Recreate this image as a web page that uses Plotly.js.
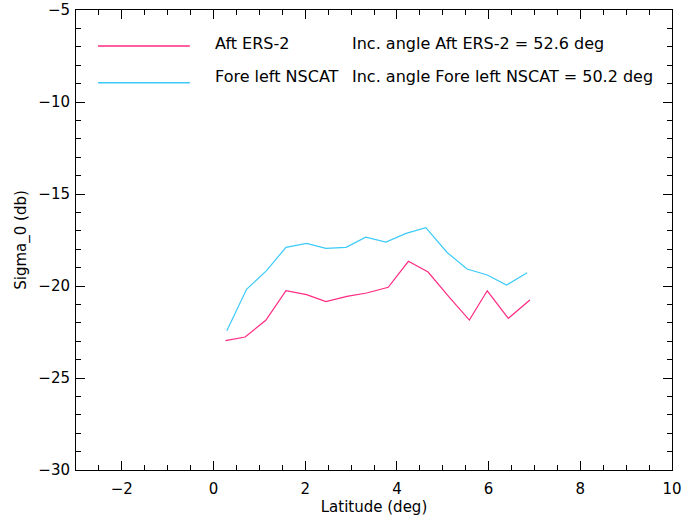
<!DOCTYPE html>
<html>
<head>
<meta charset="utf-8">
<script src="https://cdn.plot.ly/plotly-3.0.1.min.js"></script>
<style>
html,body{margin:0;padding:0;background:#fff;}
#chart{width:693px;height:519px;}
</style>
</head>
<body>
<div id="chart"></div>
<script>
// Aft ERS-2 series
const ersLat = [0.26, 0.69, 1.14, 1.58, 2.03, 2.45, 2.91, 3.34, 3.81, 4.25, 4.68, 5.14, 5.58, 5.97, 6.43, 6.90];
const ersSigma = [-22.97, -22.77, -21.86, -20.26, -20.47, -20.85, -20.56, -20.38, -20.07, -18.66, -19.24, -20.61, -21.85, -20.26, -21.76, -20.76];
// Fore left NSCAT series
const nscatLat = [0.29, 0.72, 1.15, 1.58, 2.03, 2.45, 2.89, 3.32, 3.76, 4.20, 4.63, 5.10, 5.53, 5.97, 6.39, 6.84];
const nscatSigma = [-22.43, -20.18, -19.18, -17.90, -17.68, -17.95, -17.90, -17.35, -17.61, -17.14, -16.83, -18.19, -19.08, -19.40, -19.95, -19.28];
const seriesNames = ['Aft ERS-2', 'Fore left NSCAT'];
const incLabels = ['Inc. angle Aft ERS-2 = 52.6 deg', 'Inc. angle Fore left NSCAT = 50.2 deg'];
const xTicks = [-2, 0, 2, 4, 6, 8, 10];
const yTicks = [-30, -25, -20, -15, -10, -5];

const pink = '#ff2a82';
const cyan = '#3ccaf8';
const font = {family: 'DejaVu Sans', size: 15, color: '#000'};
const annFont = {family: 'DejaVu Sans', size: 16, color: '#000'};

const traces = [
  {x: ersLat, y: ersSigma, mode: 'lines', name: seriesNames[0], line: {color: pink, width: 1.2}},
  {x: nscatLat, y: nscatSigma, mode: 'lines', name: seriesNames[1], line: {color: cyan, width: 1.2}}
];

const axisCommon = {
  showgrid: false, zeroline: false, showline: true, linecolor: '#000', linewidth: 1,
  mirror: 'allticks', ticks: 'inside', ticklen: 9, tickwidth: 1, tickcolor: '#000',
  tickfont: font
};

const legendY = [0.922, 0.842];
const textY = [0.927, 0.8565];
const shapes = legendY.map((yy, i) => ({
  type: 'line', xref: 'paper', yref: 'paper', x0: 0.037, x1: 0.191, y0: yy, y1: yy,
  line: {color: i === 0 ? pink : cyan, width: 1.5}
}));
const annotations = [];
for (let i = 0; i < 2; i++) {
  annotations.push({xref: 'paper', yref: 'paper', x: 0.230, y: textY[i], xanchor: 'left', yanchor: 'middle', text: seriesNames[i], showarrow: false, font: annFont});
  annotations.push({xref: 'paper', yref: 'paper', x: 0.460, y: textY[i], xanchor: 'left', yanchor: 'middle', text: incLabels[i], showarrow: false, font: annFont});
}

const layout = {
  width: 693, height: 519,
  margin: {l: 76, r: 21, t: 10, b: 49},
  paper_bgcolor: '#fff', plot_bgcolor: '#fff',
  showlegend: false,
  font: font,
  xaxis: Object.assign({}, axisCommon, {
    range: [-3, 10], tickvals: xTicks, ticktext: xTicks.map(v => v < 0 ? '\u2212' + Math.abs(v) : String(v)),
    ticklabelstandoff: 5,
    minor: {dtick: 0.5, ticklen: 5, tickcolor: '#000', ticks: 'inside'},
    title: {text: 'Latitude (deg)', font: font, standoff: 4}
  }),
  yaxis: Object.assign({}, axisCommon, {
    range: [-30, -5], tickvals: yTicks, ticktext: yTicks.map(v => '\u2212' + Math.abs(v)),
    ticklabelstandoff: 2,
    minor: {dtick: 1, ticklen: 5, tickcolor: '#000', ticks: 'inside'},
    title: {text: 'Sigma_0 (db)', font: font, standoff: 8}
  }),
  shapes: shapes,
  annotations: annotations
};

Plotly.newPlot('chart', traces, layout, {displayModeBar: false, staticPlot: true});
</script>
</body>
</html>
